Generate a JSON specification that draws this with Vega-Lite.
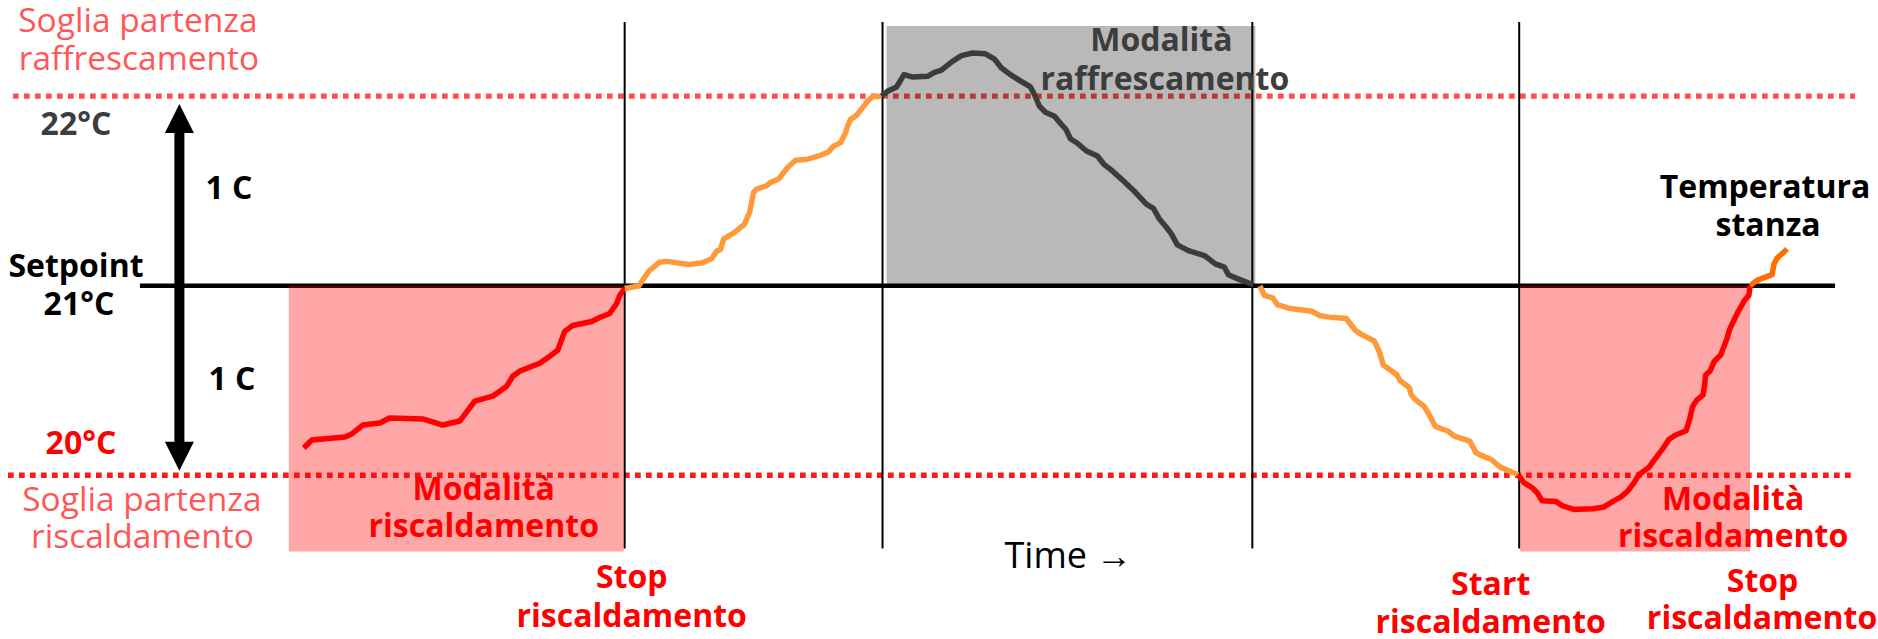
{
  "$schema": "https://vega.github.io/schema/vega-lite/v6.json",
  "width": 1878,
  "height": 639,
  "autosize": {"type": "fit", "contains": "padding"},
  "padding": 0,
  "background": "white",
  "config": {"view": {"stroke": null}, "text": {"font": "Open Sans"}},
  "layer": [
    {
      "data": {"values": [{"t0": 13, "t1": 1856, "temp": 22}]},
      "mark": {"type": "rule", "color": "#FF4D4D", "strokeWidth": 5.3, "strokeDash": [5.7, 5.3]},
      "encoding": {
        "x": {"field": "t0", "type": "quantitative", "scale": {"domain": [0, 1878], "nice": false, "zero": false}, "axis": null},
        "x2": {"field": "t1"},
        "y": {"field": "temp", "type": "quantitative", "scale": {"domain": [19.15223, 22.50656], "nice": false, "zero": false}, "axis": null}
      }
    },
    {
      "data": {"values": [{"t0": 8, "t1": 1856, "temp": 20}]},
      "mark": {"type": "rule", "color": "#FF1A1A", "strokeWidth": 5.3, "strokeDash": [5.7, 5.3]},
      "encoding": {
        "x": {"field": "t0", "type": "quantitative", "axis": null},
        "x2": {"field": "t1"},
        "y": {"field": "temp", "type": "quantitative", "axis": null}
      }
    },
    {
      "data": {"values": [{"t0": 140, "t1": 1836, "temp": 21}]},
      "mark": {"type": "rule", "color": "#000000", "strokeWidth": 4.5},
      "encoding": {
        "x": {"field": "t0", "type": "quantitative", "axis": null},
        "x2": {"field": "t1"},
        "y": {"field": "temp", "type": "quantitative", "axis": null}
      }
    },
    {
      "data": {"values": [{"t": 625, "temp": 22.391, "temp1": 19.614}, {"t": 883, "temp": 22.391, "temp1": 19.614}, {"t": 1253, "temp": 22.391, "temp1": 19.614}, {"t": 1520, "temp": 22.391, "temp1": 19.614}]},
      "mark": {"type": "rule", "color": "#000000", "strokeWidth": 2},
      "encoding": {
        "x": {"field": "t", "type": "quantitative", "axis": null},
        "y": {"field": "temp", "type": "quantitative", "axis": null},
        "y2": {"field": "temp1"}
      }
    },
    {
      "data": {"values": [{"t0": 289, "t1": 624, "temp": 21.0, "temp1": 19.598}, {"t0": 1521, "t1": 1751, "temp": 21.0, "temp1": 19.598}]},
      "mark": {"type": "rect", "color": "#FF0000", "opacity": 0.35},
      "encoding": {
        "x": {"field": "t0", "type": "quantitative", "axis": null},
        "x2": {"field": "t1"},
        "y": {"field": "temp", "type": "quantitative", "axis": null},
        "y2": {"field": "temp1"}
      }
    },
    {
      "data": {"values": [{"t0": 887, "t1": 1256, "temp": 22.370, "temp1": 21.0}]},
      "mark": {"type": "rect", "color": "#000000", "opacity": 0.275},
      "encoding": {
        "x": {"field": "t0", "type": "quantitative", "axis": null},
        "x2": {"field": "t1"},
        "y": {"field": "temp", "type": "quantitative", "axis": null},
        "y2": {"field": "temp1"}
      }
    },
    {
      "data": {"values": [
        {"seg": "h1", "t": 304, "temp": 20.144}, {"seg": "h1", "t": 312, "temp": 20.186}, {"seg": "h1", "t": 345, "temp": 20.202}, {"seg": "h1", "t": 352, "temp": 20.218}, {"seg": "h1", "t": 363, "temp": 20.265}, {"seg": "h1", "t": 380, "temp": 20.276}, {"seg": "h1", "t": 390, "temp": 20.302}, {"seg": "h1", "t": 423, "temp": 20.297}, {"seg": "h1", "t": 443, "temp": 20.265}, {"seg": "h1", "t": 460, "temp": 20.286}, {"seg": "h1", "t": 472, "temp": 20.370}, {"seg": "h1", "t": 475, "temp": 20.391}, {"seg": "h1", "t": 493, "temp": 20.417}, {"seg": "h1", "t": 507, "temp": 20.470}, {"seg": "h1", "t": 513, "temp": 20.522}, {"seg": "h1", "t": 520, "temp": 20.549}, {"seg": "h1", "t": 540, "temp": 20.591}, {"seg": "h1", "t": 550, "temp": 20.627}, {"seg": "h1", "t": 558, "temp": 20.659}, {"seg": "h1", "t": 565, "temp": 20.759}, {"seg": "h1", "t": 573, "temp": 20.790}, {"seg": "h1", "t": 592, "temp": 20.811}, {"seg": "h1", "t": 600, "temp": 20.832}, {"seg": "h1", "t": 610, "temp": 20.853}, {"seg": "h1", "t": 617, "temp": 20.906}, {"seg": "h1", "t": 620, "temp": 20.948}, {"seg": "h1", "t": 625, "temp": 20.985},
        {"seg": "o1", "t": 625, "temp": 20.985}, {"seg": "o1", "t": 639, "temp": 20.998}, {"seg": "o1", "t": 649, "temp": 21.075}, {"seg": "o1", "t": 660, "temp": 21.124}, {"seg": "o1", "t": 667, "temp": 21.128}, {"seg": "o1", "t": 689, "temp": 21.112}, {"seg": "o1", "t": 703, "temp": 21.121}, {"seg": "o1", "t": 712, "temp": 21.142}, {"seg": "o1", "t": 717, "temp": 21.182}, {"seg": "o1", "t": 721, "temp": 21.191}, {"seg": "o1", "t": 724, "temp": 21.247}, {"seg": "o1", "t": 734, "temp": 21.277}, {"seg": "o1", "t": 745, "temp": 21.325}, {"seg": "o1", "t": 750, "temp": 21.387}, {"seg": "o1", "t": 754, "temp": 21.492}, {"seg": "o1", "t": 757, "temp": 21.509}, {"seg": "o1", "t": 767, "temp": 21.527}, {"seg": "o1", "t": 771, "temp": 21.544}, {"seg": "o1", "t": 779, "temp": 21.562}, {"seg": "o1", "t": 788, "temp": 21.623}, {"seg": "o1", "t": 796, "temp": 21.661}, {"seg": "o1", "t": 808, "temp": 21.667}, {"seg": "o1", "t": 819, "temp": 21.684}, {"seg": "o1", "t": 829, "temp": 21.705}, {"seg": "o1", "t": 834, "temp": 21.736}, {"seg": "o1", "t": 841, "temp": 21.754}, {"seg": "o1", "t": 846, "temp": 21.807}, {"seg": "o1", "t": 848, "temp": 21.841}, {"seg": "o1", "t": 851, "temp": 21.877}, {"seg": "o1", "t": 857, "temp": 21.898}, {"seg": "o1", "t": 863, "temp": 21.938}, {"seg": "o1", "t": 868, "temp": 21.973}, {"seg": "o1", "t": 873, "temp": 21.996}, {"seg": "o1", "t": 882, "temp": 21.999},
        {"seg": "c1", "t": 882, "temp": 21.999}, {"seg": "c1", "t": 888, "temp": 22.025}, {"seg": "c1", "t": 897, "temp": 22.048}, {"seg": "c1", "t": 904.5, "temp": 22.113}, {"seg": "c1", "t": 912.5, "temp": 22.101}, {"seg": "c1", "t": 928, "temp": 22.104}, {"seg": "c1", "t": 935, "temp": 22.125}, {"seg": "c1", "t": 941.5, "temp": 22.135}, {"seg": "c1", "t": 953, "temp": 22.183}, {"seg": "c1", "t": 962, "temp": 22.213}, {"seg": "c1", "t": 973, "temp": 22.227}, {"seg": "c1", "t": 986, "temp": 22.223}, {"seg": "c1", "t": 995, "temp": 22.195}, {"seg": "c1", "t": 1002, "temp": 22.148}, {"seg": "c1", "t": 1011, "temp": 22.113}, {"seg": "c1", "t": 1020, "temp": 22.083}, {"seg": "c1", "t": 1031, "temp": 22.048}, {"seg": "c1", "t": 1035, "temp": 22.008}, {"seg": "c1", "t": 1040, "temp": 21.946}, {"seg": "c1", "t": 1046, "temp": 21.915}, {"seg": "c1", "t": 1055, "temp": 21.894}, {"seg": "c1", "t": 1062, "temp": 21.850}, {"seg": "c1", "t": 1066.5, "temp": 21.824}, {"seg": "c1", "t": 1071, "temp": 21.775}, {"seg": "c1", "t": 1078, "temp": 21.751}, {"seg": "c1", "t": 1087, "temp": 21.710}, {"seg": "c1", "t": 1098, "temp": 21.684}, {"seg": "c1", "t": 1104.5, "temp": 21.640}, {"seg": "c1", "t": 1113, "temp": 21.605}, {"seg": "c1", "t": 1122, "temp": 21.562}, {"seg": "c1", "t": 1136, "temp": 21.492}, {"seg": "c1", "t": 1147, "temp": 21.430}, {"seg": "c1", "t": 1154, "temp": 21.408}, {"seg": "c1", "t": 1160, "temp": 21.352}, {"seg": "c1", "t": 1167, "temp": 21.308}, {"seg": "c1", "t": 1172, "temp": 21.273}, {"seg": "c1", "t": 1178, "temp": 21.215}, {"seg": "c1", "t": 1189, "temp": 21.185}, {"seg": "c1", "t": 1205, "temp": 21.159}, {"seg": "c1", "t": 1216, "temp": 21.115}, {"seg": "c1", "t": 1225, "temp": 21.098}, {"seg": "c1", "t": 1229, "temp": 21.058}, {"seg": "c1", "t": 1238, "temp": 21.037}, {"seg": "c1", "t": 1254, "temp": 21.005},
        {"seg": "o2", "t": 1260.5, "temp": 20.998}, {"seg": "o2", "t": 1265, "temp": 20.949}, {"seg": "o2", "t": 1273.5, "temp": 20.935}, {"seg": "o2", "t": 1278, "temp": 20.900}, {"seg": "o2", "t": 1291, "temp": 20.879}, {"seg": "o2", "t": 1312.5, "temp": 20.865}, {"seg": "o2", "t": 1321, "temp": 20.841}, {"seg": "o2", "t": 1330, "temp": 20.834}, {"seg": "o2", "t": 1347, "temp": 20.827}, {"seg": "o2", "t": 1356, "temp": 20.765}, {"seg": "o2", "t": 1362, "temp": 20.743}, {"seg": "o2", "t": 1375, "temp": 20.708}, {"seg": "o2", "t": 1380, "temp": 20.652}, {"seg": "o2", "t": 1384, "temp": 20.582}, {"seg": "o2", "t": 1397, "temp": 20.533}, {"seg": "o2", "t": 1401, "temp": 20.498}, {"seg": "o2", "t": 1410, "temp": 20.463}, {"seg": "o2", "t": 1412, "temp": 20.424}, {"seg": "o2", "t": 1416.5, "temp": 20.398}, {"seg": "o2", "t": 1425, "temp": 20.363}, {"seg": "o2", "t": 1429.5, "temp": 20.323}, {"seg": "o2", "t": 1436, "temp": 20.258}, {"seg": "o2", "t": 1449, "temp": 20.232}, {"seg": "o2", "t": 1455, "temp": 20.206}, {"seg": "o2", "t": 1470.5, "temp": 20.180}, {"seg": "o2", "t": 1477, "temp": 20.118}, {"seg": "o2", "t": 1481.5, "temp": 20.106}, {"seg": "o2", "t": 1492, "temp": 20.083}, {"seg": "o2", "t": 1501, "temp": 20.043}, {"seg": "o2", "t": 1519, "temp": 20.003},
        {"seg": "h2", "t": 1519, "temp": 20.003}, {"seg": "h2", "t": 1524.7, "temp": 19.961}, {"seg": "h2", "t": 1533, "temp": 19.934}, {"seg": "h2", "t": 1538, "temp": 19.908}, {"seg": "h2", "t": 1543, "temp": 19.865}, {"seg": "h2", "t": 1557, "temp": 19.861}, {"seg": "h2", "t": 1563.6, "temp": 19.838}, {"seg": "h2", "t": 1574.5, "temp": 19.820}, {"seg": "h2", "t": 1594, "temp": 19.823}, {"seg": "h2", "t": 1605, "temp": 19.833}, {"seg": "h2", "t": 1613.4, "temp": 19.861}, {"seg": "h2", "t": 1622, "temp": 19.886}, {"seg": "h2", "t": 1628.6, "temp": 19.917}, {"seg": "h2", "t": 1635, "temp": 19.961}, {"seg": "h2", "t": 1639.4, "temp": 20.001}, {"seg": "h2", "t": 1650, "temp": 20.043}, {"seg": "h2", "t": 1656.7, "temp": 20.092}, {"seg": "h2", "t": 1663, "temp": 20.135}, {"seg": "h2", "t": 1669.7, "temp": 20.188}, {"seg": "h2", "t": 1676, "temp": 20.211}, {"seg": "h2", "t": 1687, "temp": 20.235}, {"seg": "h2", "t": 1690.5, "temp": 20.293}, {"seg": "h2", "t": 1693.5, "temp": 20.363}, {"seg": "h2", "t": 1698, "temp": 20.398}, {"seg": "h2", "t": 1704, "temp": 20.424}, {"seg": "h2", "t": 1705.6, "temp": 20.480}, {"seg": "h2", "t": 1706.5, "temp": 20.529}, {"seg": "h2", "t": 1711, "temp": 20.550}, {"seg": "h2", "t": 1715, "temp": 20.599}, {"seg": "h2", "t": 1721.6, "temp": 20.634}, {"seg": "h2", "t": 1728, "temp": 20.722}, {"seg": "h2", "t": 1730.3, "temp": 20.765}, {"seg": "h2", "t": 1732.5, "temp": 20.792}, {"seg": "h2", "t": 1739, "temp": 20.862}, {"seg": "h2", "t": 1745.5, "temp": 20.923}, {"seg": "h2", "t": 1749.8, "temp": 20.949}, {"seg": "h2", "t": 1751, "temp": 21.0},
        {"seg": "o3", "t": 1751, "temp": 21.0}, {"seg": "o3", "t": 1758, "temp": 21.028}, {"seg": "o3", "t": 1767, "temp": 21.046}, {"seg": "o3", "t": 1773, "temp": 21.058}, {"seg": "o3", "t": 1775, "temp": 21.115}, {"seg": "o3", "t": 1778, "temp": 21.145}, {"seg": "o3", "t": 1784, "temp": 21.173}, {"seg": "o3", "t": 1788, "temp": 21.194}
      ]},
      "mark": {"type": "line", "strokeWidth": 5.5, "strokeJoin": "round", "interpolate": "linear"},
      "encoding": {
        "x": {"field": "t", "type": "quantitative", "axis": null},
        "y": {"field": "temp", "type": "quantitative", "axis": null},
        "color": {"field": "seg", "type": "nominal", "legend": null, "scale": {"domain": ["h1", "o1", "c1", "o2", "h2", "o3"], "range": ["#FF0000", "#FF9A3A", "#3C3C3C", "#FF9A3A", "#FF0000", "#FF6D00"]}}
      }
    },
    {
      "data": {"values": [{"t": 179.5, "temp": 21.808, "temp1": 20.176}]},
      "mark": {"type": "rule", "color": "#000000", "strokeWidth": 10},
      "encoding": {
        "x": {"field": "t", "type": "quantitative", "axis": null},
        "y": {"field": "temp", "type": "quantitative", "axis": null},
        "y2": {"field": "temp1"}
      }
    },
    {
      "data": {"values": [{"t": 179.5, "temp": 21.882}]},
      "mark": {"type": "point", "filled": true, "opacity": 1, "color": "#000000", "size": 841, "shape": "M0,-1L1,1L-1,1Z"},
      "encoding": {
        "x": {"field": "t", "type": "quantitative", "axis": null},
        "y": {"field": "temp", "type": "quantitative", "axis": null}
      }
    },
    {
      "data": {"values": [{"t": 179.5, "temp": 20.100}]},
      "mark": {"type": "point", "filled": true, "opacity": 1, "color": "#000000", "size": 841, "shape": "M0,1L1,-1L-1,-1Z"},
      "encoding": {
        "x": {"field": "t", "type": "quantitative", "axis": null},
        "y": {"field": "temp", "type": "quantitative", "axis": null}
      }
    },
    {
      "data": {"values": [
        {"label": "Soglia partenza", "t": 138, "temp": 22.340},
        {"label": "raffrescamento", "t": 139, "temp": 22.139},
        {"label": "Soglia partenza", "t": 142, "temp": 19.814},
        {"label": "riscaldamento", "t": 142.5, "temp": 19.614}
      ]},
      "mark": {"type": "text", "font": "Open Sans", "fontSize": 33.5, "color": "#FF5757", "align": "center", "baseline": "alphabetic"},
      "encoding": {
        "x": {"field": "t", "type": "quantitative", "axis": null},
        "y": {"field": "temp", "type": "quantitative", "axis": null},
        "text": {"field": "label"}
      }
    },
    {
      "data": {"values": [{"label": "Time →", "t": 1069, "temp": 19.509}]},
      "mark": {"type": "text", "font": "Open Sans", "fontSize": 36, "color": "#000000", "align": "center", "baseline": "alphabetic"},
      "encoding": {
        "x": {"field": "t", "type": "quantitative", "axis": null},
        "y": {"field": "temp", "type": "quantitative", "axis": null},
        "text": {"field": "label"}
      }
    },
    {
      "data": {"values": [
        {"label": "22°C", "t": 76, "temp": 21.793},
        {"label": "Modalità", "t": 1162, "temp": 22.240},
        {"label": "raffrescamento", "t": 1165.5, "temp": 22.034}
      ]},
      "mark": {"type": "text", "font": "Open Sans", "fontSize": 32, "fontWeight": "bold", "color": "#3D3D3D", "align": "center", "baseline": "alphabetic"},
      "encoding": {
        "x": {"field": "t", "type": "quantitative", "axis": null},
        "y": {"field": "temp", "type": "quantitative", "axis": null},
        "text": {"field": "label"}
      }
    },
    {
      "data": {"values": [
        {"label": "1 C", "t": 229, "temp": 21.457},
        {"label": "Setpoint", "t": 76, "temp": 21.047},
        {"label": "21°C", "t": 79, "temp": 20.845},
        {"label": "1 C", "t": 232, "temp": 20.449},
        {"label": "Temperatura", "t": 1766, "temp": 21.462},
        {"label": "stanza", "t": 1769, "temp": 21.264}
      ]},
      "mark": {"type": "text", "font": "Open Sans", "fontSize": 32, "fontWeight": "bold", "color": "#000000", "align": "center", "baseline": "alphabetic"},
      "encoding": {
        "x": {"field": "t", "type": "quantitative", "axis": null},
        "y": {"field": "temp", "type": "quantitative", "axis": null},
        "text": {"field": "label"}
      }
    },
    {
      "data": {"values": [
        {"label": "20°C", "t": 81, "temp": 20.113},
        {"label": "Modalità", "t": 484, "temp": 19.871},
        {"label": "riscaldamento", "t": 484, "temp": 19.672},
        {"label": "Stop", "t": 632, "temp": 19.404},
        {"label": "riscaldamento", "t": 632, "temp": 19.199},
        {"label": "Modalità", "t": 1734, "temp": 19.815},
        {"label": "riscaldamento", "t": 1734, "temp": 19.619},
        {"label": "Start", "t": 1491.5, "temp": 19.369},
        {"label": "riscaldamento", "t": 1491.5, "temp": 19.170},
        {"label": "Stop", "t": 1763.5, "temp": 19.383},
        {"label": "riscaldamento", "t": 1763, "temp": 19.189}
      ]},
      "mark": {"type": "text", "font": "Open Sans", "fontSize": 32, "fontWeight": "bold", "color": "#FF0000", "align": "center", "baseline": "alphabetic"},
      "encoding": {
        "x": {"field": "t", "type": "quantitative", "axis": null},
        "y": {"field": "temp", "type": "quantitative", "axis": null},
        "text": {"field": "label"}
      }
    }
  ]
}
